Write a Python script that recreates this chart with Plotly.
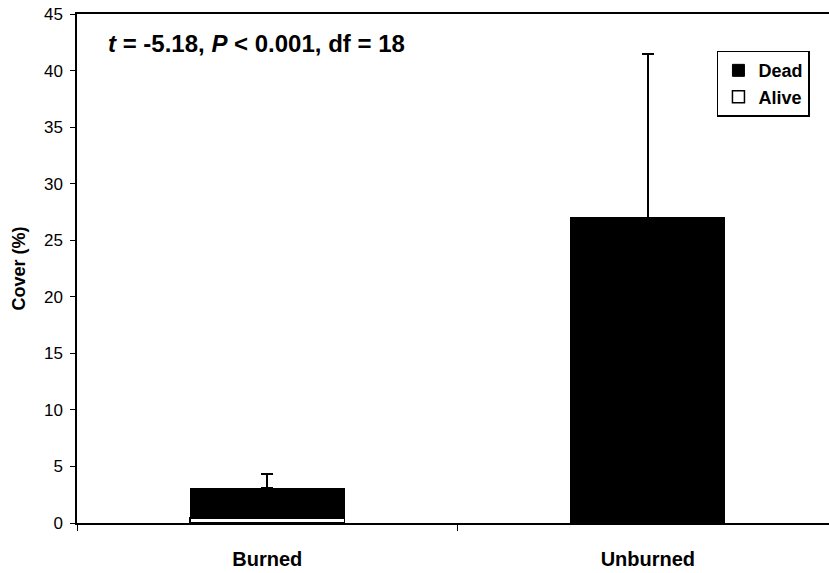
import plotly.graph_objects as go

categories = ["Burned", "Unburned"]
alive = [0.45, 0.0]
dead = [2.64, 27.0]
dead_err = [1.2, 14.5]
y_ticks = [0, 5, 10, 15, 20, 25, 30, 35, 40, 45]

FONT = "Arial, Liberation Sans, sans-serif"

fig = go.Figure()
fig.add_trace(go.Bar(
    x=categories, y=alive, name="Alive",
    marker=dict(color="white", line=dict(color="black", width=1.5)),
))
fig.add_trace(go.Bar(
    x=categories, y=dead, name="Dead",
    marker=dict(color="black", line=dict(color="black", width=1)),
    error_y=dict(type="data", array=dead_err, arrayminus=[0, 0], symmetric=False,
                 color="black", thickness=2, width=6),
))

fig.add_annotation(
    xref="paper", yref="paper", x=0.038, y=0.943, xanchor="left", yanchor="middle",
    text="<b><i>t</i> = -5.18, <i>P</i> &lt; 0.001, df = 18</b>",
    showarrow=False, font=dict(family=FONT, size=24, color="black"),
)

fig.update_layout(
    width=829, height=573,
    margin=dict(l=77, r=0, t=14, b=50),
    paper_bgcolor="white", plot_bgcolor="white",
    barmode="stack", bargap=0.595,
    font=dict(family=FONT, color="black"),
    legend=dict(
        x=0.851, y=0.928, xanchor="left", yanchor="top",
        traceorder="reversed",
        bordercolor="black", borderwidth=1.5, bgcolor="white",
        font=dict(family=FONT, size=18, color="black", weight="bold"),
        itemwidth=30,
    ),
    showlegend=True,
)

fig.update_xaxes(
    range=[-0.5, 1.476], showline=True, linecolor="black", linewidth=1.5,
    mirror=True, ticks="outside", tickson="boundaries", ticklen=6, tickcolor="black",
    tickfont=dict(family=FONT, size=20, color="black", weight="bold"),
    ticklabelstandoff=17, showgrid=False, automargin=False,
)
fig.update_yaxes(
    range=[0, 45], tickvals=y_ticks, showline=True, linecolor="black", linewidth=1.5,
    ticks="outside", ticklen=5, tickcolor="black", showgrid=False, zeroline=False,
    tickfont=dict(family=FONT, size=17, color="black"), automargin=False,
    ticklabelstandoff=4,
    title=dict(text="<b>Cover (%)</b>", font=dict(family=FONT, size=18, color="black"), standoff=14),
)

fig.write_html("out.html", config={"displayModeBar": False},
               post_script="document.body.style.margin='0px';")
